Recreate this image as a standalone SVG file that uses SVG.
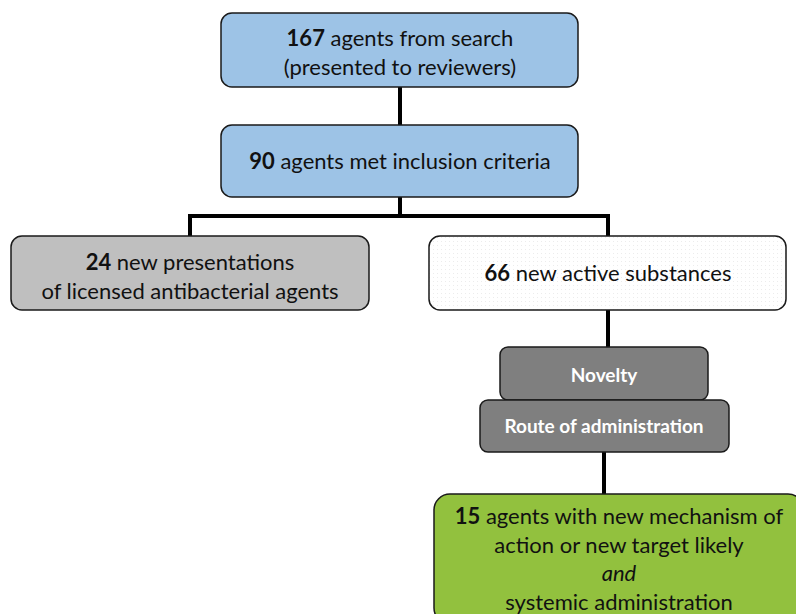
<svg xmlns="http://www.w3.org/2000/svg" width="796" height="614" viewBox="0 0 796 614">
<defs>
<pattern id="dots" width="4" height="4" patternUnits="userSpaceOnUse">
<rect width="4" height="4" fill="#ffffff"/>
<rect x="1" y="1" width="1" height="1" fill="#ececec"/>
</pattern>
</defs>
<style>
.box{stroke:#1a1a1a;stroke-width:1.5}
.t{font-family:Lato,"Open Sans","Liberation Sans",sans-serif;font-size:22px;fill:#111;text-anchor:middle}
.w{font-family:Lato,"Open Sans","Liberation Sans",sans-serif;font-size:19px;font-weight:bold;fill:#fff;text-anchor:middle}
.c{fill:none;stroke:#000;stroke-width:4}
</style>
<g id="connectors">
<path class="c" d="M400 87V126"/>
<path class="c" d="M400 197V216M190 237V216H608V237"/>
<path class="c" d="M608 310V348"/>
<path class="c" d="M604 452V495"/>
</g>
<g id="n1">
<rect class="box" x="221" y="13" width="357" height="74" rx="11" fill="#9DC3E6"/>
<text class="t" x="400" y="46"><tspan font-weight="bold">167</tspan> agents from search</text>
<text class="t" x="400" y="75">(presented to reviewers)</text>
</g>
<g id="n2">
<rect class="box" x="221" y="125" width="357" height="72" rx="11" fill="#9DC3E6"/>
<text class="t" x="400" y="169"><tspan font-weight="bold">90</tspan> agents met inclusion criteria</text>
</g>
<g id="n3">
<rect class="box" x="11" y="236" width="358" height="74" rx="11" fill="#BFBFBF"/>
<text class="t" x="190" y="270"><tspan font-weight="bold">24</tspan> new presentations</text>
<text class="t" x="190" y="299">of licensed antibacterial agents</text>
</g>
<g id="n4">
<rect class="box" x="429" y="236" width="357" height="74" rx="11" fill="url(#dots)"/>
<text class="t" x="608" y="281"><tspan font-weight="bold">66</tspan> new active substances</text>
</g>
<g id="n5">
<rect class="box" x="500" y="347" width="208" height="53" rx="8" fill="#7F7F7F"/>
<text class="w" x="604" y="382">Novelty</text>
</g>
<g id="n6">
<rect class="box" x="480" y="400" width="249" height="52" rx="8" fill="#7F7F7F"/>
<text class="w" x="604" y="433">Route of administration</text>
</g>
<g id="n7">
<rect class="box" x="434" y="494" width="370" height="130" rx="16" fill="#92C13E"/>
<text class="t" x="619" y="524"><tspan font-weight="bold">15</tspan> agents with new mechanism of</text>
<text class="t" x="619" y="553">action or new target likely</text>
<text class="t" x="619" y="581" font-style="italic">and</text>
<text class="t" x="619" y="610">systemic administration</text>
</g>
</svg>
